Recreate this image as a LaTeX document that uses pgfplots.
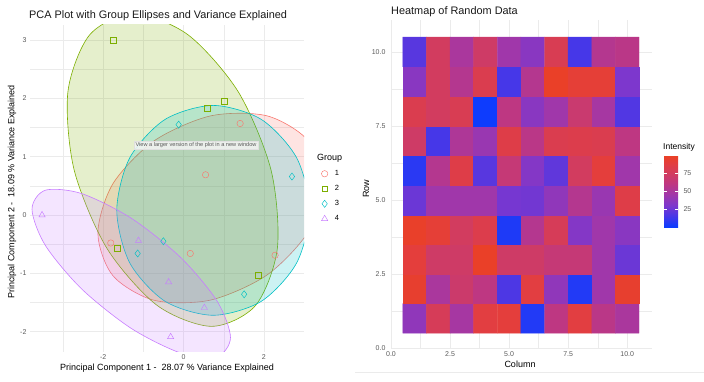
\documentclass[border=0pt]{standalone}
\usepackage{pgfplots}
\pgfplotsset{compat=1.18}
\usepackage{fontspec}
\setmainfont{Liberation Sans}
\definecolor{cA}{HTML}{F8766D}
\definecolor{cB}{HTML}{7CAE00}
\definecolor{cC}{HTML}{00BFC4}
\definecolor{cD}{HTML}{C77CFF}
\definecolor{gridgray}{HTML}{EBEBEB}
\definecolor{ticktext}{HTML}{5A5A5A}
\begin{document}
\begin{tikzpicture}[x=1pt,y=1pt]
\useasboundingbox (0,0) rectangle (704,382);
% ---------------- Left: PCA -----------------
\begin{axis}[
  at={(30pt,30pt)}, anchor=south west, scale only axis,
  width=274pt, height=327pt,
  xmin=-3.82, xmax=3.0, ymin=-2.35, ymax=3.26,
  axis line style={draw=none}, tick style={draw=none},
  xtick={-2,0,2}, xticklabels={-2,0,2},
  ytick={-2,-1,0,1,2,3}, yticklabels={-2,-1,0,1,2,3},
  minor xtick={-3,-1,1}, minor ytick={-1.5,-0.5,0.5,1.5,2.5},
  grid=both,
  major grid style={color=gridgray, line width=0.5pt},
  minor grid style={color=gridgray, line width=0.3pt},
  ticklabel style={font=\fontsize{7}{8}\selectfont, text=ticktext},
  yticklabel style={xshift=0pt},
  xticklabel style={yshift=1pt},
  legend image code/.code={\draw[#1] plot coordinates {(0pt,0pt)};},
  legend style={at={(axis description cs:1.052,0.565)}, anchor=north west, draw=none, fill=none,
     font=\fontsize{7.5}{8}\selectfont, row sep=6.3pt, column sep=6pt, nodes={inner sep=1pt}},
  legend cell align=left,
]
% points
\addplot[only marks, mark=o, mark size=3.2pt, mark options={draw=cA, line width=0.45pt}] coordinates {
 (0.55,0.69) (1.41,1.57) (-1.81,-0.48) (0.17,-0.66) (2.28,-0.69)};
\addlegendentry{1}
\addplot[only marks, mark=square, mark size=2.9pt, mark options={draw=cB, line width=0.45pt}] coordinates {
 (-1.74,3.0) (0.6,1.83) (1.02,1.95) (-1.64,-0.57) (1.86,-1.03)};
\addlegendentry{2}
\addplot[only marks, mark=diamond, mark size=3.6pt, mark options={draw=cC, line width=0.45pt}] coordinates {
 (-0.12,1.55) (2.7,0.66) (-0.5,-0.45) (-1.14,-0.66) (1.51,-1.36)};
\addlegendentry{3}
\addplot[only marks, mark=triangle, mark size=3.6pt, mark options={draw=cD, line width=0.45pt}] coordinates {
 (-3.52,0.0) (-1.12,-0.44) (-0.37,-1.15) (0.52,-1.59) (-0.32,-2.09)};
\addlegendentry{4}
% ellipses
\addplot[forget plot, smooth cycle, draw=cA, fill=cA, fill opacity=0.2, line width=0.6pt] coordinates {
 (3.47,0.55) (3.095,1.282) (2.07,1.703) (0.67,1.70) (-0.73,1.273) (-1.755,0.538)
 (-2.13,-0.31) (-1.755,-1.042) (-0.73,-1.463) (0.67,-1.46) (2.07,-1.033) (3.095,-0.298)};
\addplot[forget plot, smooth cycle, draw=cB, fill=cB, fill opacity=0.2, line width=0.6pt] coordinates {
 (2.18,0.77) (1.367,2.11) (0.115,3.091) (-1.24,3.45) (-2.335,3.091) (-2.877,2.11)
 (-2.72,0.77) (-1.907,-0.57) (-0.655,-1.551) (0.70,-1.91) (1.795,-1.551) (2.337,-0.57)};
\addplot[forget plot, smooth cycle, draw=cC, fill=cC, fill opacity=0.2, line width=0.6pt] coordinates {
 (3.14,0.08) (2.818,0.98) (1.94,1.639) (0.74,1.88) (-0.46,1.639) (-1.338,0.98)
 (-1.66,0.08) (-1.338,-0.82) (-0.46,-1.479) (0.74,-1.72) (1.94,-1.479) (2.818,-0.82)};
\addplot[forget plot, smooth cycle, draw=cD, fill=cD, fill opacity=0.2, line width=0.6pt] coordinates {
 (1.17,-2.1) (0.839,-1.48) (-0.065,-0.732) (-1.3,-0.055) (-2.535,0.368) (-3.439,0.425)
 (-3.77,0.1) (-3.439,-0.52) (-2.535,-1.268) (-1.3,-1.945) (-0.065,-2.368) (0.839,-2.425)};
\end{axis}
\node[anchor=west, inner sep=0pt, font=\fontsize{10.9}{12}\selectfont, text=black!90] at (29,366) {PCA Plot with Group Ellipses and Variance Explained};
\node[font=\fontsize{9}{10}\selectfont] at (167,14) {Principal Component 1 -\ \ 28.07 \% Variance Explained};
\node[rotate=90, font=\fontsize{9}{10}\selectfont] at (12,190) {Principal Component 2 -\ \ 18.09 \% Variance Explained};
\node[anchor=west, inner sep=0pt, font=\fontsize{9}{10}\selectfont] at (317,224) {Group};
\node[fill=black!4, fill opacity=0.85, text opacity=1, draw=black!12, inner sep=1.3pt, font=\fontsize{5.6}{6}\selectfont, text=black!65] at (196,236.5) {View a larger version of the plot in a new window};
% ---------------- Right: heatmap -----------------
\begin{axis}[
  at={(391pt,34pt)}, anchor=south west, scale only axis,
  width=261pt, height=328pt,
  xmin=0, xmax=11.05, ymin=0, ymax=11.08,
  axis line style={draw=none}, tick style={draw=none},
  xtick={0,2.5,5,7.5,10}, xticklabels={0.0,2.5,5.0,7.5,10.0},
  ytick={0,2.5,5,7.5,10}, yticklabels={0.0,2.5,5.0,7.5,10.0},
  minor xtick={1.25,3.75,6.25,8.75}, minor ytick={1.25,3.75,6.25,8.75},
  grid=both,
  major grid style={color=gridgray, line width=0.5pt},
  minor grid style={color=gridgray, line width=0.3pt},
  ticklabel style={font=\fontsize{7}{8}\selectfont, text=ticktext},
  yticklabel style={xshift=-2pt},
  xticklabel style={yshift=0pt},
  colormap={bluered}{rgb255(0pt)=(10,60,255); rgb255(15pt)=(70,55,232); rgb255(30pt)=(125,55,205); rgb255(45pt)=(160,55,170); rgb255(60pt)=(190,55,130); rgb255(75pt)=(210,60,95); rgb255(90pt)=(228,62,60); rgb255(100pt)=(235,65,35)},
  point meta min=0, point meta max=100,
  colorbar,
  colorbar style={
    at={(1.046,0.588)}, anchor=north west, scale only axis,
    width=14pt, height=72pt,
    axis line style={draw=none},
    ytick={25,50,75}, yticklabels={25,50,75},
    yticklabel pos=right,
    ytick style={draw=white, line width=0.6pt},
    major tick length=3pt, tick align=inside,
    yticklabel style={font=\fontsize{7}{8}\selectfont, text=ticktext, xshift=2pt},
  },
]
\addplot[matrix plot*, mesh/cols=10, point meta=explicit] table[meta=c] {
x y c
1 1 38
2 1 78
3 1 48
4 1 88
5 1 90
6 1 6
7 1 60
8 1 88
9 1 58
10 1 50
1 2 95
2 2 50
3 2 70
4 2 60
5 2 17
6 2 88
7 2 38
8 2 6
9 2 45
10 2 95
1 3 90
2 3 72
3 3 72
4 3 98
5 3 72
6 3 72
7 3 65
8 3 65
9 3 45
10 3 25
1 4 97
2 4 92
3 4 75
4 4 83
5 4 5
6 4 55
7 4 78
8 4 33
9 4 45
10 4 35
1 5 25
2 5 45
3 5 45
4 5 45
5 5 28
6 5 27
7 5 38
8 5 55
9 5 42
10 5 85
1 6 8
2 6 55
3 6 85
4 6 20
5 6 65
6 6 33
7 6 22
8 6 75
9 6 90
10 6 45
1 7 72
2 7 15
3 7 52
4 7 42
5 7 85
6 7 58
7 7 82
8 7 83
9 7 82
10 7 60
1 8 82
2 8 75
3 8 80
4 8 1
5 8 60
6 8 35
7 8 45
8 8 68
9 8 48
10 8 18
1 9 35
2 9 75
3 9 55
4 9 82
5 9 15
6 9 55
7 9 98
8 9 92
9 9 92
10 9 30
1 10 20
2 10 75
3 10 50
4 10 72
5 10 45
6 10 35
7 10 80
8 10 15
9 10 55
10 10 58
};
\end{axis}
\node[anchor=west, inner sep=0pt, font=\fontsize{10.9}{12}\selectfont, text=black!90] at (391,370) {Heatmap of Random Data};
\node[font=\fontsize{9}{10}\selectfont] at (520,18) {Column};
\node[rotate=90, font=\fontsize{9}{10}\selectfont] at (366,193) {Row};
\node[anchor=west, inner sep=0pt, font=\fontsize{8.5}{10}\selectfont] at (663,235) {Intensity};
\draw[black!8, line width=0.6pt] (355,10) -- (704,10);
\end{tikzpicture}
\end{document}
